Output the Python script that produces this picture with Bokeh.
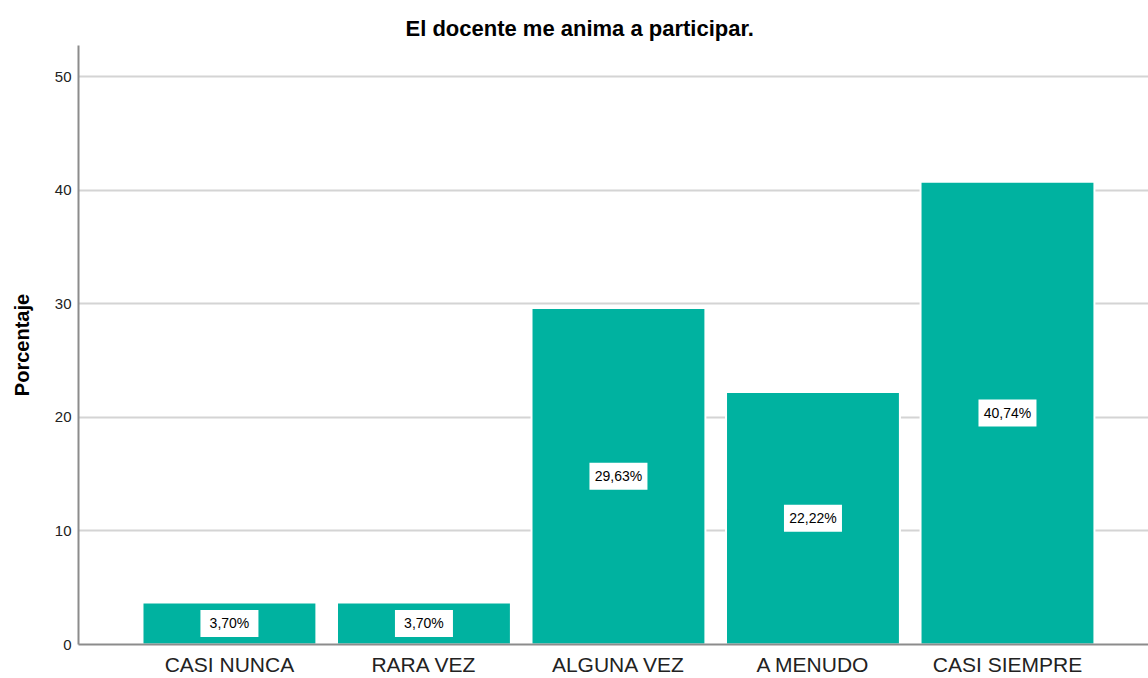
from bokeh.plotting import figure
from bokeh.models import ColumnDataSource, Range1d, FixedTicker, Title
from bokeh.core.properties import value
from bokeh.embed import file_html
from bokeh.resources import INLINE

categories = ["CASI NUNCA", "RARA VEZ", "ALGUNA VEZ", "A MENUDO", "CASI SIEMPRE"]
percentages = [3.70, 3.70, 29.63, 22.22, 40.74]
label_texts = ["3,70%", "3,70%", "29,63%", "22,22%", "40,74%"]
y_ticks = [0, 10, 20, 30, 40, 50]

xs = list(range(1, len(categories) + 1))
src = ColumnDataSource(dict(
    x=xs,
    top=percentages,
    mid=[v / 2 for v in percentages],
    txt=label_texts,
))

p = figure(frame_width=1070, frame_height=599, output_backend="svg", toolbar_location=None,
           x_range=Range1d(0.224, 5.725), y_range=Range1d(0, 52.73),
           min_border_left=78, min_border_right=0, min_border_top=45, min_border_bottom=20,
           background_fill_color="white", border_fill_color="white")
p.outline_line_color = None

t = Title(text="El docente me anima a participar.", align="left", offset=327,
          vertical_align="bottom", standoff=9,
          text_font="Liberation Sans", text_font_size="22px", text_font_style="bold",
          text_color="black")
p.title = t

p.vbar(x="x", top="top", width=0.894, source=src, fill_color="#00B2A0",
       line_color="white", line_width=2)

p.rect(x="x", y="mid", width=58, height=27, width_units="screen", height_units="screen",
       source=src, fill_color="white", line_color=None)
p.text(x="x", y="mid", text="txt", source=src, text_align="center", text_baseline="middle",
       text_font=value("Liberation Sans"), text_font_size="14px", text_color="black")

# axes
p.xaxis.ticker = FixedTicker(ticks=xs)
p.xaxis.major_label_overrides = {i: c for i, c in zip(xs, categories)}
p.xaxis.major_tick_line_color = None
p.xaxis.minor_tick_line_color = None
p.xaxis.major_tick_out = 0
p.xaxis.major_tick_in = 0
p.xaxis.major_label_text_font = "Liberation Sans"
p.xaxis.major_label_text_font_size = "21px"
p.xaxis.major_label_text_line_height = 0.9
p.xaxis.major_label_text_color = "#222222"
p.xaxis.major_label_standoff = 8
p.xaxis.axis_line_color = "#8c8c8c"
p.xaxis.axis_line_width = 2

p.yaxis.ticker = FixedTicker(ticks=y_ticks)
p.yaxis.major_tick_line_color = None
p.yaxis.minor_tick_line_color = None
p.yaxis.major_tick_out = 0
p.yaxis.major_tick_in = 0
p.yaxis.major_label_text_font = "Liberation Sans"
p.yaxis.major_label_text_font_size = "15px"
p.yaxis.major_label_text_color = "#222222"
p.yaxis.major_label_standoff = 7
p.yaxis.axis_line_color = "#8c8c8c"
p.yaxis.axis_line_width = 2
p.yaxis.axis_label = "Porcentaje"
p.yaxis.axis_label_text_font = "Liberation Sans"
p.yaxis.axis_label_text_font_size = "20px"
p.yaxis.axis_label_text_font_style = "bold"
p.yaxis.axis_label_text_color = "black"
p.yaxis.axis_label_standoff = 19

p.xgrid.grid_line_color = None
p.ygrid.ticker = FixedTicker(ticks=y_ticks)
p.ygrid.grid_line_color = "#d4d4d4"
p.ygrid.grid_line_width = 2

open("out.html", "w").write(file_html(p, INLINE))
